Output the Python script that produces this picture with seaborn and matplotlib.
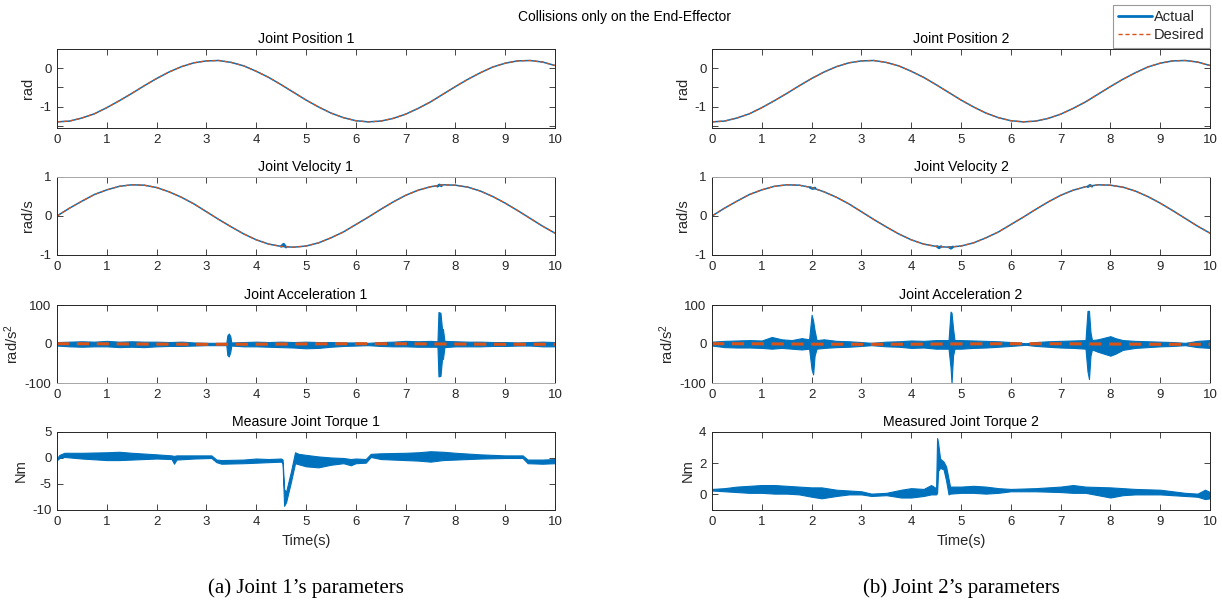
import numpy as np
import matplotlib
matplotlib.use("Agg")
import matplotlib.pyplot as plt
import seaborn as sns
from matplotlib.lines import Line2D
from matplotlib.ticker import FixedLocator

# ----------- DATA -------------------------------------

t_grid = np.linspace(0, 10, 41)   # 0.25 s sampling

pos_vals = [-1.40, -1.38, -1.30, -1.19, -1.03, -0.85, -0.66, -0.46, -0.27, -0.10,
            0.04, 0.14, 0.19, 0.20, 0.15, 0.06, -0.08, -0.24, -0.43, -0.63,
            -0.83, -1.01, -1.17, -1.29, -1.37, -1.40, -1.38, -1.31, -1.20, -1.05,
            -0.88, -0.68, -0.48, -0.29, -0.12, 0.03, 0.13, 0.19, 0.20, 0.16, 0.07]

vel_vals = [0.00, 0.20, 0.38, 0.55, 0.67, 0.76, 0.80, 0.79, 0.73, 0.62,
            0.48, 0.31, 0.11, -0.09, -0.28, -0.46, -0.61, -0.72, -0.78, -0.80,
            -0.77, -0.69, -0.56, -0.41, -0.22, -0.03, 0.17, 0.36, 0.53, 0.66,
            0.75, 0.80, 0.79, 0.74, 0.64, 0.50, 0.33, 0.14, -0.06, -0.26, -0.44]

# small bumps of the measured velocity at the collisions
vel1_bump_t = [[4.50, 4.55, 4.60], [7.64, 7.68, 7.72]]
vel1_bump_v = [[-0.78, -0.72, -0.80], [0.76, 0.80, 0.77]]
vel2_bump_t = [[1.97, 2.02, 2.07], [4.52, 4.56, 4.60], [4.76, 4.80, 4.84], [7.55, 7.59, 7.63]]
vel2_bump_v = [[0.73, 0.70, 0.72], [-0.78, -0.82, -0.78], [-0.80, -0.83, -0.79], [0.75, 0.79, 0.76]]

acc_des_t = [0, 1, 2, 3, 4, 5, 6, 7, 8, 9, 10]
acc_des = [0.8, 0.43, -0.33, -0.79, -0.52, 0.23, 0.77, 0.6, -0.12, -0.73, -0.67]

# joint 1 acceleration: noise envelope
acc1_t = [0, 0.25, 0.5, 0.75, 1.0, 1.25, 1.5, 1.75, 2.0, 2.25,
          2.5, 2.75, 3.0, 3.25, 3.4, 3.42, 3.45, 3.48, 3.5, 3.75,
          4.0, 4.25, 4.5, 4.75, 5.0, 5.25, 5.5, 5.75, 6.0, 6.25,
          6.5, 6.75, 7.0, 7.25, 7.5, 7.64, 7.66, 7.7, 7.73, 7.75,
          7.78, 8.0, 8.25, 8.5, 8.75, 9.0, 9.25, 9.5, 9.75, 10.0]
acc1_hi = [5, 6, 7, 6, 8, 6, 7, 6, 6, 5,
           6, 4, 3, 3, 3, 22, 27, 20, 4, 5,
           6, 5, 6, 5, 6, 5, 5, 4, 4, 3,
           5, 6, 8, 7, 8, 7, 82, 80, 40, 38,
           8, 7, 6, 6, 5, 5, 4, 5, 6, 5]
acc1_lo = [-4, -6, -7, -6, -6, -8, -7, -8, -6, -5,
           -5, -4, -3, -3, -3, -28, -32, -20, -4, -6,
           -6, -7, -8, -9, -11, -10, -7, -5, -4, -3,
           -5, -6, -6, -7, -7, -7, -83, -82, -40, -38,
           -8, -6, -6, -6, -5, -5, -4, -4, -6, -6]

# joint 2 acceleration: noise envelope
acc2_t = [0, 0.25, 0.5, 0.75, 1.0, 1.2, 1.4, 1.6, 1.8, 1.95,
          2.0, 2.03, 2.06, 2.1, 2.25, 2.5, 2.75, 3.0, 3.2, 3.5,
          3.75, 4.0, 4.25, 4.5, 4.75, 4.79, 4.81, 4.84, 4.87, 5.0,
          5.25, 5.5, 5.75, 6.0, 6.3, 6.5, 6.75, 7.0, 7.25, 7.5,
          7.54, 7.57, 7.6, 7.63, 7.75, 8.0, 8.1, 8.25, 8.5, 8.75,
          9.0, 9.25, 9.5, 9.75, 10.0]
acc2_hi = [6, 8, 9, 10, 9, 18, 12, 10, 15, 12,
           75, 60, 35, 10, 12, 8, 7, 5, 3, 6,
           7, 9, 8, 10, 10, 83, 80, 40, 10, 10,
           9, 8, 7, 5, 2, 5, 7, 8, 9, 10,
           85, 85, 30, 10, 12, 20, 15, 10, 8, 7,
           6, 5, 3, 8, 10]
acc2_lo = [-4, -8, -9, -9, -10, -12, -10, -12, -14, -12,
           -65, -78, -30, -12, -10, -8, -7, -5, -3, -6,
           -7, -10, -9, -12, -12, -60, -100, -30, -12, -12,
           -10, -9, -7, -5, -2, -5, -7, -9, -10, -12,
           -70, -90, -30, -14, -20, -30, -25, -15, -10, -8,
           -6, -5, -3, -8, -10]

# joint 1 torque envelope
tq1_t = [0, 0.05, 0.15, 0.5, 1.0, 1.25, 1.5, 2.0, 2.3, 2.35,
         2.4, 2.75, 3.1, 3.2, 3.3, 3.75, 4.0, 4.25, 4.5, 4.53,
         4.56, 4.6, 4.7, 4.78, 4.85, 5.0, 5.25, 5.5, 5.75, 5.9,
         6.0, 6.2, 6.3, 6.5, 7.0, 7.25, 7.5, 7.75, 8.0, 8.5,
         9.0, 9.35, 9.45, 9.75, 10.0]
tq1_hi = [0.0, 0.6, 1.0, 1.0, 1.1, 1.2, 1.0, 0.7, 0.5, 0.4,
          0.5, 0.5, 0.5, -0.3, -0.4, -0.3, -0.1, -0.2, -0.1, -0.3,
          -6.0, -6.5, -2.5, 1.1, 0.8, 0.6, 0.3, 0.1, 0.0, -0.2,
          -0.1, -0.2, 0.8, 0.9, 1.0, 1.1, 1.3, 1.2, 1.0, 0.7,
          0.5, 0.5, -0.3, -0.3, -0.2]
tq1_lo = [-0.4, 0.0, 0.2, -0.1, -0.4, -0.4, -0.3, -0.1, -0.2, -1.1,
          -0.3, -0.1, 0.0, -0.8, -1.1, -1.0, -0.9, -0.8, -0.7, -1.0,
          -9.2, -8.5, -4.5, -1.0, -1.2, -1.6, -1.8, -1.3, -1.0, -1.4,
          -1.0, -0.9, 0.2, -0.2, -0.4, -0.5, -0.7, -0.4, -0.3, -0.1,
          0.0, 0.0, -1.0, -1.1, -1.0]

# joint 2 torque envelope
tq2_t = [0, 0.25, 0.5, 0.75, 1.0, 1.25, 1.5, 1.75, 2.0, 2.2,
         2.5, 2.75, 3.0, 3.2, 3.5, 3.8, 4.0, 4.25, 4.4, 4.5,
         4.52, 4.54, 4.58, 4.65, 4.7, 4.75, 4.78, 5.0, 5.25, 5.5,
         5.75, 6.0, 6.5, 7.0, 7.25, 7.5, 8.0, 8.25, 8.5, 9.0,
         9.5, 9.75, 9.9, 10.0]
tq2_hi = [0.35, 0.4, 0.5, 0.55, 0.6, 0.6, 0.55, 0.5, 0.45, 0.45,
          0.3, 0.25, 0.2, 0.05, 0.1, 0.3, 0.4, 0.35, 0.6, 0.4,
          3.6, 3.3, 2.3, 2.1, 1.8, 1.0, 0.5, 0.5, 0.55, 0.5,
          0.4, 0.35, 0.4, 0.5, 0.6, 0.5, 0.45, 0.4, 0.35, 0.3,
          0.1, 0.05, 0.3, 0.15]
tq2_lo = [0.25, 0.2, 0.15, 0.1, 0.1, 0.05, 0.05, 0.0, -0.15, -0.25,
          -0.1, 0.0, 0.0, -0.1, -0.05, -0.2, -0.2, -0.1, 0.0, 0.0,
          0.1, 1.5, 1.7, 1.6, 0.9, 0.0, 0.05, 0.1, 0.1, 0.05,
          0.1, 0.2, 0.2, 0.15, 0.1, 0.1, -0.2, -0.05, 0.0, 0.0,
          -0.1, -0.15, -0.3, -0.25]

# ----------- STYLE ------------

sns.set_theme(style="white")
plt.rcParams['font.family'] = ['Liberation Sans', 'DejaVu Sans']
plt.rcParams['mathtext.default'] = 'regular'
plt.rcParams['axes.unicode_minus'] = False

BLUE = '#0072BD'
ORANGE = '#D95319'
DARK = '#262626'
W, H = 1222, 605

fig = plt.figure(figsize=(W / 100, H / 100), dpi=100)


def px_axes(x0, x1, y0, y1):
    return fig.add_axes([x0 / W, 1 - y1 / H, (x1 - x0) / W, (y1 - y0) / H])


def matlab_style(ax, ylim, yticks, ylabel, title, minor=None):
    ax.set_xlim(0, 10)
    ax.set_ylim(*ylim)
    ax.set_xticks(range(11))
    ax.set_yticks(yticks)
    if minor:
        ax.yaxis.set_minor_locator(FixedLocator(minor))
    ax.tick_params(which='both', direction='in', top=True, right=True, left=True, bottom=True,
                   length=4, width=0.6, color=DARK, labelcolor=DARK, labelsize=9.5, pad=4)
    for s in ax.spines.values():
        s.set_color(DARK)
        s.set_linewidth(0.7)
    ax.set_title(title, fontsize=10.2, pad=4, color='black')
    ax.set_ylabel(ylabel, fontsize=10.5, color=DARK, labelpad=3)
    ax.set_xlabel('')


cols = [57, 712]
rows = [(49, 128), (177, 255), (305, 383), (432, 510)]
data = [
    dict(acc=(acc1_t, acc1_lo, acc1_hi), tq=(tq1_t, tq1_lo, tq1_hi), n=1,
         bumps=(vel1_bump_t, vel1_bump_v),
         tq_title='Measure Joint Torque 1', tq_lim=(-10, 5), tq_ticks=[-10, -5, 0, 5]),
    dict(acc=(acc2_t, acc2_lo, acc2_hi), tq=(tq2_t, tq2_lo, tq2_hi), n=2,
         bumps=(vel2_bump_t, vel2_bump_v),
         tq_title='Measured Joint Torque 2', tq_lim=(-1, 4), tq_ticks=[0, 2, 4]),
]

for x0, d in zip(cols, data):
    x1 = x0 + 498
    n = d['n']

    # position
    ax = px_axes(x0, x1, *rows[0])
    sns.lineplot(x=t_grid, y=pos_vals, ax=ax, color=BLUE, lw=1.1)
    sns.lineplot(x=t_grid, y=pos_vals, ax=ax, color=ORANGE, lw=0.9, linestyle=(0, (3, 2)))
    matlab_style(ax, (-1.56, 0.5), [-1, 0], 'rad', f'Joint Position {n}', minor=[-1.5, -0.5])

    # velocity
    ax = px_axes(x0, x1, *rows[1])
    sns.lineplot(x=t_grid, y=vel_vals, ax=ax, color=BLUE, lw=1.1)
    for bt, bv in zip(*d['bumps']):
        sns.lineplot(x=bt, y=bv, ax=ax, color=BLUE, lw=1.8)
    sns.lineplot(x=t_grid, y=vel_vals, ax=ax, color=ORANGE, lw=0.9, linestyle=(0, (3, 2)))
    matlab_style(ax, (-1, 1), [-1, 0, 1], 'rad/s', f'Joint Velocity {n}')
    ax.spines['top'].set_color('#a6a6a6')

    # acceleration
    ax = px_axes(x0, x1, *rows[2])
    at, alo, ahi = d['acc']
    ax.fill_between(at, alo, ahi, color=BLUE, lw=0.8, edgecolor=BLUE)
    sns.lineplot(x=acc_des_t, y=acc_des, ax=ax, color=ORANGE, lw=2.2, linestyle=(0, (4, 2.5)))
    matlab_style(ax, (-100, 100), [-100, 0, 100], 'rad/s$^2$', f'Joint Acceleration {n}')
    ax.spines['bottom'].set_color('#a6a6a6')

    # torque
    ax = px_axes(x0, x1, *rows[3])
    tt, tlo, thi = d['tq']
    ax.fill_between(tt, tlo, thi, color=BLUE, lw=0.8, edgecolor=BLUE)
    matlab_style(ax, d['tq_lim'], d['tq_ticks'], 'Nm', d['tq_title'])
    ax.set_xlabel('Time(s)', fontsize=10.5, color=DARK, labelpad=5)

fig.text(624 / W, 1 - 17 / H, 'Collisions only on the End-Effector', ha='center', va='center',
         fontsize=10, color='black')

handles = [Line2D([], [], color=BLUE, lw=2),
           Line2D([], [], color=ORANGE, lw=1, linestyle=(0, (3, 2)))]
leg = fig.legend(handles, ['Actual', 'Desired'], loc='upper right',
                 bbox_to_anchor=(1210 / W, 1 - 5 / H), frameon=True, fancybox=False,
                 fontsize=10.5, handlelength=2.3, borderpad=0.35, labelspacing=0.3,
                 handletextpad=0.15, borderaxespad=0)
leg.get_frame().set_edgecolor('#808080')
leg.get_frame().set_linewidth(0.8)

fig.text(306 / W, 1 - 588 / H, '(a) Joint 1\u2019s parameters', ha='center', va='center',
         family='Liberation Serif', fontsize=15, color='black')
fig.text(961 / W, 1 - 588 / H, '(b) Joint 2\u2019s parameters', ha='center', va='center',
         family='Liberation Serif', fontsize=15, color='black')

fig.savefig('out.png', dpi=100)
